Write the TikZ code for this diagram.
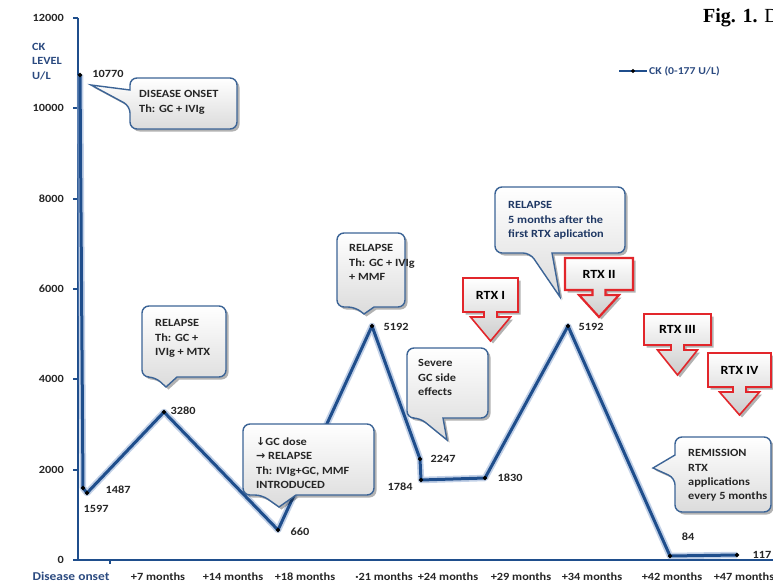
\documentclass[tikz,border=0pt]{standalone}
\usepackage{fontspec}
\setmainfont{Carlito}[FakeStretch=1.12]
\newfontfamily\arrowfont{DejaVu Sans}
\newfontfamily\figfont{Liberation Serif}
\usetikzlibrary{shapes.geometric,shadows}
\definecolor{axisblue}{HTML}{1F4E8C}
\definecolor{glowblue}{HTML}{8FAAD3}
\definecolor{callblue}{HTML}{3C6496}
\definecolor{rtxred}{HTML}{E2262B}
\definecolor{txt}{HTML}{262626}
\definecolor{lblblue}{HTML}{2B4A80}
\definecolor{navytxt}{HTML}{1F3864}
\newcommand{\drawrtx}[8]{%
  \pgfmathsetmacro\rtxcx{(#2+#4)/2}%
  \pgfmathsetmacro\rtxsa{\rtxcx-6.5}\pgfmathsetmacro\rtxsb{\rtxcx+6.5}%
  \pgfmathsetmacro\rtxha{\rtxcx-20}\pgfmathsetmacro\rtxhb{\rtxcx+20}%
  \pgfmathsetmacro\rtxsy{#5+5}%
  \pgfmathsetmacro\rtxcy{(#3+#5)/2}%
  \path[rtx, line width=#8] (#2,#3) -- (#4,#3) -- (#4,#5) -- (\rtxsb,#5) -- (\rtxsb,\rtxsy) -- (\rtxhb,\rtxsy) -- (\rtxcx,#6) -- (\rtxha,\rtxsy) -- (\rtxsa,\rtxsy) -- (\rtxsa,#5) -- (#2,#5) -- cycle;
  \node[rtxtext] (#1) at (\rtxcx,\rtxcy) {#7};
}
\begin{document}
\begin{tikzpicture}[x=1pt,y=-1pt,
  font=\bfseries\fontsize{11}{14.3}\selectfont,
  callout/.style={draw=callblue, line width=1.4pt, top color=white, bottom color=gray!28,
    drop shadow={shadow xshift=2.5pt, shadow yshift=-2.5pt, fill=black, opacity=0.3}},
  rtx/.style={draw=rtxred, top color=white, bottom color=gray!40,
    drop shadow={shadow xshift=2.5pt, shadow yshift=-2.5pt, fill=black, opacity=0.3}},
  rtxtext/.style={inner sep=0pt, text=black, font=\bfseries\fontsize{12.5}{14}\selectfont},
  ctext/.style={anchor=north west, align=left, inner sep=0pt, text=txt},
  dlabel/.style={inner sep=0pt, text=txt},
  ytick/.style={anchor=east, inner sep=0pt, text=txt},
  xlab/.style={anchor=base, inner sep=0pt, text=txt},
  marker/.style={diamond, fill=black, inner sep=0pt, minimum size=5pt},
  dataline/.style={axisblue, line width=3pt, line join=round},
  glowline/.style={glowblue, line width=6.5pt, line join=round, opacity=0.55},
  axisline/.style={axisblue, line width=2pt}]
\useasboundingbox (0,0) rectangle (773,583);

% axes
\coordinate (ytop) at (78,18);
\coordinate (origin) at (78,560);
\coordinate (xend) at (773,560);
\draw[axisline] (ytop) -- (origin) -- (xend);
\foreach \v/\yy in {12000/18,10000/108,8000/199,6000/289,4000/379,2000/470,0/560}{
  \draw[axisblue, line width=1.2pt] (73,\yy) -- (78,\yy);
  \node[ytick] (yt\v) at (64,\yy) {\v};
}
\draw[axisblue, line width=1.2pt] (110,560) -- (110,564);

\node[anchor=base west, inner sep=0pt, text=lblblue] (ylab1) at (32,50.5) {CK};
\node[anchor=base west, inner sep=0pt, text=lblblue] (ylab2) at (32,64.5) {LEVEL};
\node[anchor=base west, inner sep=0pt, text=lblblue] (ylab3) at (32,79.5) {U/L};

% x labels
\node[xlab, text=lblblue, font=\bfseries\fontsize{12}{14}\selectfont] (x0) at (71,580.3) {Disease onset};
\node[xlab] (x1) at (158,580) {+7 months};
\node[xlab] (x2) at (233,580) {+14 months};
\node[xlab] (x3) at (305,580) {+18 months};
\node[xlab] (x4) at (384,580) {·21 months};
\node[xlab] (x5) at (448,580) {+24 months};
\node[xlab] (x6) at (521,580) {+29 months};
\node[xlab] (x7) at (592,580) {+34 months};
\node[xlab] (x8) at (672,580) {+42 months};
\node[xlab] (x9) at (744,580) {+47 months};

% data
\coordinate (p1) at (80,75);
\coordinate (p2) at (83,488);
\coordinate (p3) at (87,493);
\coordinate (p4) at (164,412);
\coordinate (p5) at (278,530);
\coordinate (p6) at (372,326);
\coordinate (p7) at (420,459);
\coordinate (p8) at (421,480);
\coordinate (p9) at (485,478);
\coordinate (p10) at (568,326);
\coordinate (p11) at (670,556);
\coordinate (p12) at (737,555);
\draw[glowline] (p1) -- (p2) -- (p3) -- (p4) -- (p5) -- (p6) -- (p7) -- (p8) -- (p9) -- (p10) -- (p11) -- (p12);
\draw[dataline] (p1) -- (p2) -- (p3) -- (p4) -- (p5) -- (p6) -- (p7) -- (p8) -- (p9) -- (p10) -- (p11) -- (p12);
\foreach \i in {1,...,12}{\node[marker] (m\i) at (p\i) {};}

\node[dlabel] (l1) at (108,74) {10770};
\node[dlabel] (l2) at (96,509) {1597};
\node[dlabel] (l3) at (118,490) {1487};
\node[dlabel] (l4) at (183,411) {3280};
\node[dlabel] (l5) at (300,532) {660};
\node[dlabel] (l6) at (396,327) {5192};
\node[dlabel] (l7) at (443,459) {2247};
\node[dlabel] (l8) at (400,487) {1784};
\node[dlabel] (l9) at (510,478) {1830};
\node[dlabel] (l10) at (591,327) {5192};
\node[dlabel] (l11) at (688,537) {84};
\node[dlabel] (l12) at (762,555) {117};

% legend
\coordinate (lg1) at (619,71);
\coordinate (lg2) at (647,71);
\draw[axisblue, line width=2pt] (lg1) -- (lg2);
\node[marker, minimum size=4.5pt] (lgm) at (633,71) {};
\node[anchor=west, inner sep=0pt, text=lblblue, font=\bfseries\fontsize{10.5}{12}\selectfont] (lgt) at (649,71) {CK (0-177 U/L)};

% figure caption fragment (cut at the right edge, as in the source)
\node[anchor=base west, inner sep=0pt, text=black, font=\figfont\fontsize{20}{22}\selectfont] (fig) at (703,22.5) {\textbf{Fig. 1.} D};

% callouts
\path[callout] (91,85) -- (130,90) [rounded corners=7pt] -- (130,78) -- (237,78) -- (237,129) -- (130,129) -- (130,106) [sharp corners] -- cycle;
\node[ctext] (cA) at (139,90.4) {DISEASE ONSET\\Th: GC + IVIg};

\path[callout] (166,387) -- (177,377) [rounded corners=7pt] -- (226,377) -- (226,306) -- (142,306) -- (142,377) -- (155,377) [sharp corners] -- cycle;
\node[ctext] (cB) at (155,319.4) {RELAPSE\\Th: GC +\\IVIg + MTX};

\path[callout] (364,314) -- (374,307) [rounded corners=7pt] -- (405,307) -- (405,233) -- (337,233) -- (337,307) -- (355,307) [sharp corners] -- cycle;
\node[ctext] (cC) at (349,244.4) {RELAPSE\\Th: GC + IVIg\\+ MMF};

\path[callout] (279,507) -- (296,495) [rounded corners=7pt] -- (374,495) -- (374,424) -- (243,424) -- (243,495) -- (262,495) [sharp corners] -- cycle;
\node[ctext] (cD) at (256,437.4) {{\arrowfont ↓}GC dose\\{\arrowfont →} RELAPSE\\Th: IVIg+GC, MMF\\INTRODUCED};

\path[callout] (447,440) -- (443,418) [rounded corners=7pt] -- (488,418) -- (488,348) -- (407,348) -- (407,418) -- (420,418) [sharp corners] -- cycle;
\node[ctext] (cE) at (418,359.4) {Severe\\GC side\\effects};

\path[callout] (560,297) -- (552,253) [rounded corners=7pt] -- (625,253) -- (625,187) -- (495,187) -- (495,253) -- (530,253) [sharp corners] -- cycle;
\node[ctext, text=navytxt] (cF) at (508,201.4) {RELAPSE\\5 months after the\\first RTX aplication};

\path[callout] (653,468) -- (675,455) [rounded corners=7pt] -- (675,437) -- (771,437) -- (771,512) -- (675,512) -- (675,478) [sharp corners] -- cycle;
\node[ctext] (cG) at (688,449.4) {REMISSION\\RTX\\applications\\every 5 months};

% RTX boxes
\drawrtx{rtx1}{463}{278}{518}{312}{341}{RTX I}{1.6pt}
\drawrtx{rtx2}{565}{258}{633}{290}{317}{RTX II}{2.2pt}
\drawrtx{rtx3}{644}{314}{711}{345}{375}{RTX III}{1.6pt}
\drawrtx{rtx4}{708}{353}{771}{387}{415}{RTX IV}{1.6pt}
\end{tikzpicture}
\end{document}
